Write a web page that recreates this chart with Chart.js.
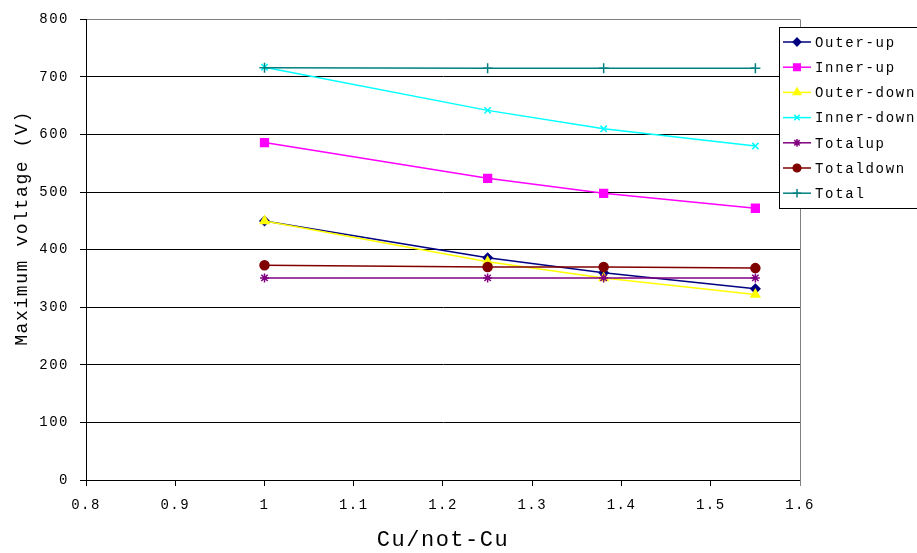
<!DOCTYPE html>
<html>
<head>
<meta charset="utf-8">
<script src="https://cdn.jsdelivr.net/npm/chart.js@4/dist/chart.umd.min.js"></script>
<style>
html,body{margin:0;padding:0;background:#fff;}
#wrap{width:917px;height:553px;position:relative;}
</style>
</head>
<body>
<div id="wrap"><canvas id="c" width="917" height="553"></canvas></div>
<script>
const cuRatio = [1, 1.25, 1.38, 1.55];
const outerUp = [450, 386, 360, 332];
const innerUp = [586, 524, 498, 472];
const outerDown = [450, 379, 351, 322];
const innerDown = [717, 642, 610, 580];
const totalUp = [351, 351, 351, 351];
const totalDown = [373, 370, 370, 368];
const total = [716, 715, 715, 715];
const xTickLabels = ['0.8','0.9','1','1.1','1.2','1.3','1.4','1.5','1.6'];
const yTickLabels = ['0','100','200','300','400','500','600','700','800'];
const seriesNames = ['Outer-up','Inner-up','Outer-down','Inner-down','Totalup','Totaldown','Total'];
const xTitle = 'Cu/not-Cu';
const yTitle = 'Maximum voltage (V)';

const FONT = "'Liberation Mono', 'DejaVu Sans Mono', monospace";
const seriesValues = [outerUp, innerUp, outerDown, innerDown, totalUp, totalDown, total];
const colors = ['#000080','#FF00FF','#FFFF00','#00FFFF','#800080','#800000','#008080'];
const styles = ['rectRot','rect','triangle','crossRot','star','circle','cross'];
const radii = [4.5, 5.5, 5, 4.5, 4.5, 4.5, 5];

const datasets = seriesNames.map((name, i) => ({
  label: name,
  data: cuRatio.map((x, j) => ({x: x, y: seriesValues[i][j]})),
  borderColor: colors[i],
  backgroundColor: colors[i],
  borderWidth: 1.5,
  pointStyle: styles[i],
  pointRadius: radii[i],
  pointBorderWidth: 1.5,
  pointBackgroundColor: colors[i],
  pointBorderColor: colors[i],
  tension: 0,
  fill: false,
  order: seriesNames.length - i
}));

const spacingPlugin = {
  id: 'spacing',
  beforeUpdate(chart){ chart.ctx.letterSpacing = '1.5px'; },
  beforeDraw(chart){ chart.ctx.letterSpacing = '1.5px'; }
};

const framePlugin = {
  id: 'frame',
  afterDatasetsDraw(chart){
    const {ctx, chartArea} = chart;
    ctx.save();
    ctx.strokeStyle = '#808080';
    ctx.lineWidth = 1;
    ctx.beginPath();
    ctx.moveTo(Math.round(chartArea.right) + 0.5, chartArea.top);
    ctx.lineTo(Math.round(chartArea.right) + 0.5, chartArea.bottom + 6);
    ctx.stroke();
    ctx.restore();
  }
};

const yTitlePlugin = {
  id: 'yTitle',
  afterDraw(chart){
    const ctx = chart.ctx;
    ctx.save();
    ctx.letterSpacing = '1.6px';
    ctx.translate(22, 228);
    ctx.rotate(-Math.PI / 2);
    ctx.fillStyle = '#000';
    ctx.font = "18px " + FONT;
    ctx.textAlign = 'center';
    ctx.textBaseline = 'middle';
    ctx.fillText(yTitle, 0, 0);
    ctx.restore();
  }
};

const legendPlugin = {
  id: 'boxLegend',
  afterDraw(chart){
    const ctx = chart.ctx;
    const x0 = 779, y0 = 27, w = 200, h = 181;
    ctx.save();
    ctx.letterSpacing = '1.7px';
    ctx.fillStyle = '#fff';
    ctx.fillRect(x0, y0, w, h);
    ctx.strokeStyle = '#000';
    ctx.lineWidth = 1;
    ctx.strokeRect(x0 + 0.5, y0 + 0.5, w, h);
    chart.data.datasets.forEach((ds, i) => {
      const cy = y0 + 15 + i * 25.2;
      ctx.strokeStyle = ds.borderColor;
      ctx.lineWidth = 1.5;
      ctx.beginPath();
      ctx.moveTo(783, cy);
      ctx.lineTo(811, cy);
      ctx.stroke();
      ctx.fillStyle = ds.pointBackgroundColor;
      ctx.strokeStyle = ds.pointBorderColor;
      if (Chart.helpers && Chart.helpers.drawPoint) {
        Chart.helpers.drawPoint(ctx, {pointStyle: ds.pointStyle, radius: ds.pointRadius * 0.85, rotation: 0, borderWidth: 1.5}, 797, cy);
      }
      ctx.fillStyle = '#000';
      ctx.font = "14px " + FONT;
      ctx.textBaseline = 'middle';
      ctx.textAlign = 'left';
      ctx.fillText(ds.label, 815, cy + 1);
    });
    ctx.restore();
  }
};

new Chart(document.getElementById('c'), {
  type: 'line',
  data: { datasets: datasets },
  options: {
    responsive: false,
    animation: false,
    layout: { padding: { top: 17, right: 117, left: 0, bottom: 0 } },
    plugins: { legend: { display: false }, tooltip: { enabled: false } },
    scales: {
      x: {
        type: 'linear',
        min: 0.8, max: 1.6,
        afterFit(scale){ scale.height = 73; },
        afterBuildTicks(scale){
          scale.ticks = xTickLabels.map(t => ({value: parseFloat(t)}));
        },
        ticks: {
          maxRotation: 0, minRotation: 0, autoSkip: false,
          color: '#000', padding: 11,
          font: { family: FONT, size: 14 },
          callback: (v, i) => xTickLabels[i]
        },
        grid: { drawOnChartArea: false, drawTicks: true, tickLength: 6, color: '#000', lineWidth: 1 },
        border: { color: '#000', width: 1 },
        title: {
          display: true, text: xTitle, color: '#000',
          font: { family: FONT, size: 22 }, padding: { top: 0, bottom: 0 }
        }
      },
      y: {
        type: 'linear',
        min: 0, max: 800,
        afterFit(scale){ scale.width = 86; },
        afterBuildTicks(scale){
          scale.ticks = yTickLabels.map(t => ({value: parseFloat(t)}));
        },
        ticks: {
          color: '#000', padding: 11,
          font: { family: FONT, size: 14 },
          callback: (v, i) => yTickLabels[i]
        },
        grid: {
          drawTicks: true, tickLength: 6, lineWidth: 1,
          color: (c) => (c.tick && c.tick.value === 800) ? '#808080' : '#000',
          tickColor: '#000'
        },
        border: { color: '#000', width: 1 },
        title: { display: false }
      }
    }
  },
  plugins: [spacingPlugin, framePlugin, yTitlePlugin, legendPlugin]
});
</script>
</body>
</html>
